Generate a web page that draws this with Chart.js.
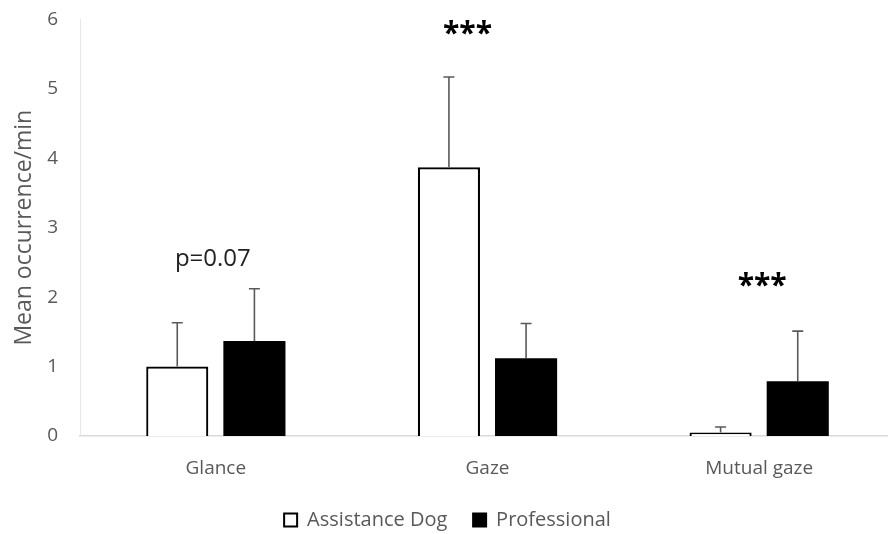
<!DOCTYPE html>
<html>
<head>
<meta charset="utf-8">
<script src="https://cdn.jsdelivr.net/npm/chart.js@4"></script>
<style>
  html, body { margin: 0; padding: 0; background: #fff; overflow: hidden; }
  #wrap { position: relative; top: -14px; width: 895px; height: 554px; }
</style>
</head>
<body>
<div id="wrap"><canvas id="chart"></canvas></div>
<script>
const categories = ['Glance', 'Gaze', 'Mutual gaze'];
const assistanceMeans = [1.0, 3.87, 0.05];
const assistanceErrors = [0.63, 1.30, 0.08];
const professionalMeans = [1.37, 1.12, 0.79];
const professionalErrors = [0.75, 0.50, 0.72];
const yTicks = [0, 1, 2, 3, 4, 5, 6];
const sigLabels = ['p=0.07', '***', '***'];
const sigValues = [2.55, 5.83, 2.2];

const errors = [assistanceErrors, professionalErrors];
const FONT = '"Open Sans", Lato, sans-serif';

// Draw upward error bars and the significance labels
const extrasPlugin = {
    id: 'extras',
    afterDatasetsDraw(chart) {
        const ctx = chart.ctx;
        const y = chart.scales.y;
        ctx.save();
        chart.data.datasets.forEach((ds, i) => {
            const meta = chart.getDatasetMeta(i);
            meta.data.forEach((bar, j) => {
                const top = y.getPixelForValue(ds.data[j]);
                const end = y.getPixelForValue(ds.data[j] + errors[i][j]);
                ctx.strokeStyle = '#5a5a5a';
                ctx.lineWidth = 1.6;
                ctx.beginPath();
                ctx.moveTo(bar.x, top);
                ctx.lineTo(bar.x, end);
                ctx.moveTo(bar.x - 5.5, end);
                ctx.lineTo(bar.x + 5.5, end);
                ctx.stroke();
            });
        });
        const x = chart.scales.x;
        ctx.textAlign = 'center';
        ctx.textBaseline = 'middle';
        sigLabels.forEach((label, j) => {
            const px = x.getPixelForValue(j);
            const py = y.getPixelForValue(sigValues[j]);
            if (label === '***') {
                ctx.font = 'bold 30px ' + FONT;
                ctx.fillStyle = '#000';
                ctx.fillText(label, px + (j === 1 ? -20 : 3), py + 3);
            } else {
                ctx.font = '24px ' + FONT;
                ctx.fillStyle = '#222';
                ctx.fillText(label, px - 3, py);
            }
        });
        ctx.restore();
    }
};

new Chart(document.getElementById('chart'), {
    type: 'bar',
    data: {
        labels: categories,
        datasets: [{
            label: 'Assistance Dog',
            data: assistanceMeans,
            backgroundColor: '#ffffff',
            borderColor: '#000000',
            borderWidth: 2.2,
            borderSkipped: 'bottom'
        }, {
            label: 'Professional',
            data: professionalMeans,
            backgroundColor: '#000000',
            borderColor: '#000000',
            borderWidth: 0
        }]
    },
    options: {
        responsive: true,
        maintainAspectRatio: false,
        animation: false,
        categoryPercentage: 0.568,
        barPercentage: 0.805,
        layout: { padding: { top: 0, right: 0, bottom: 0, left: 0 } },
        plugins: {
            legend: {
                position: 'bottom',
                labels: {
                    boxWidth: 13,
                    boxHeight: 13,
                    color: '#595959',
                    font: { family: FONT, size: 20 },
                    padding: 5,
                    generateLabels(chart) {
                        return chart.data.datasets.map((ds, i) => ({
                            // extra spaces widen the gap between the two entries
                            text: i === 0 ? ds.label + '    ' : ds.label,
                            fillStyle: ds.backgroundColor,
                            strokeStyle: '#000',
                            lineWidth: 2,
                            fontColor: '#595959',
                            datasetIndex: i
                        }));
                    }
                }
            },
            tooltip: { enabled: false }
        },
        scales: {
            x: {
                grid: { display: false, drawTicks: false },
                border: { color: '#d9d9d9', width: 1.5 },
                ticks: {
                    color: '#595959',
                    font: { family: FONT, size: 19 },
                    padding: 21
                },
                afterFit(axis) {
                    axis.height = 69;
                }
            },
            y: {
                min: 0,
                max: 6,
                afterBuildTicks(axis) {
                    axis.ticks = yTicks.map(v => ({ value: v }));
                },
                grid: { display: false, drawTicks: false },
                border: { color: '#e6e6e6', width: 1 },
                ticks: {
                    color: '#595959',
                    font: { family: FONT, size: 19 },
                    padding: 22
                },
                title: {
                    display: true,
                    text: 'Mean occurrence/min',
                    color: '#595959',
                    font: { family: FONT, size: 23 },
                    padding: { top: 11, bottom: 4 }
                },
                afterFit(axis) {
                    axis.width = 80;
                }
            }
        }
    },
    plugins: [extrasPlugin]
});
</script>
</body>
</html>
